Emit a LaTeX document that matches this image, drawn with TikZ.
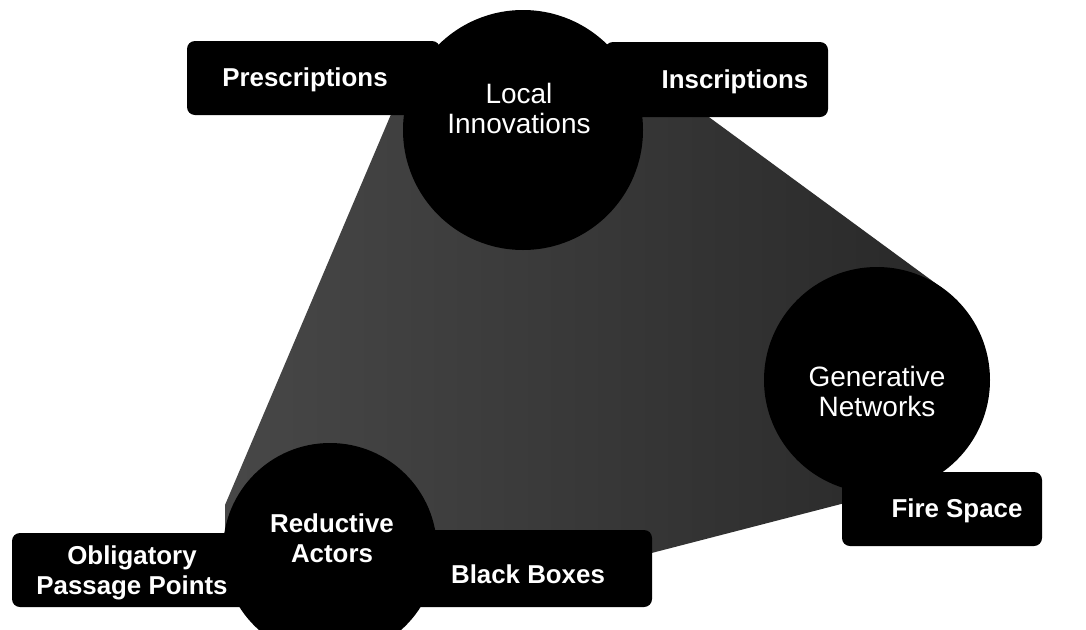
\documentclass[tikz,border=0pt]{standalone}
\usepackage{fontspec}
\setmainfont{Liberation Sans}
\begin{document}
\begin{tikzpicture}[x=0.75pt,y=-0.75pt,
  boxlbl/.style={font=\bfseries\fontsize{19.4}{22.5}\selectfont, text=white, align=center, inner sep=0pt},
  circlbl/.style={font=\fontsize{21}{22.5}\selectfont, text=white, align=center, inner sep=0pt},
  darkfill/.style={fill=black},
  boxshape/.style={fill=black, rounded corners=6pt}]
\useasboundingbox (0,0) rectangle (1086,629);
\clip (0,0) rectangle (1086,629);
% textured hull between the three circles
\shade[left color=black!72, right color=black!84]
  (392,112) -- (702,112) -- (942,288) -- (930,420) -- (900,480) -- (845,503) -- (640,556) -- (330,560) -- (225,533) -- (225,505) -- cycle;
% boxes
\fill[boxshape] (187,41) rectangle (440,115);
\fill[boxshape] (605,42) rectangle (828,117);
\fill[boxshape] (842,472) rectangle (1042,546);
\fill[boxshape] (12,533) rectangle (300,607);
\fill[boxshape] (380,530) rectangle (652,607);
% circles
\coordinate (cLocal) at (523,130);
\coordinate (cGen) at (877,380);
\coordinate (cRed) at (330,550);
\fill[darkfill] (cLocal) circle (120);
\fill[darkfill] (cGen) circle (113);
\fill[darkfill] (cRed) circle (107);
% labels
\node[boxlbl] (presc) at (305,80) {Prescriptions};
\node[boxlbl] (insc) at (735,82) {Inscriptions};
\node[boxlbl] (fire) at (957,511) {Fire Space};
\node[boxlbl] (opp) at (132,573) {Obligatory\\Passage Points};
\node[boxlbl] (black) at (528,574) {Black Boxes};
\node[circlbl] (local) at (519,108) {Local\\Innovations};
\node[circlbl] (gen) at (877,391) {Generative\\Networks};
\node[circlbl, font=\bfseries\fontsize{19.4}{22.5}\selectfont] (red) at (332,538) {Reductive\\Actors};
\end{tikzpicture}
\end{document}
